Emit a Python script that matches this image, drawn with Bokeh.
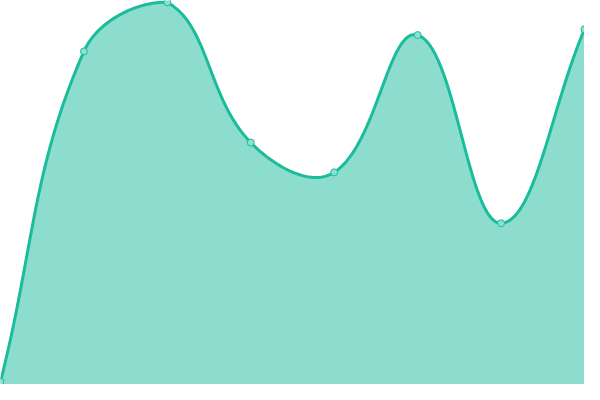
import numpy as np
from bokeh.plotting import figure
from bokeh.models import Range1d
from bokeh.embed import file_html
from bokeh.resources import INLINE

# values
xs = [0, 1, 2, 3, 4, 5, 6, 7]
ys = [3, 347, 398, 252, 221, 364, 168, 370]

TENSION = 0.4
X_UNIT = 600 / 7  # so the spline is computed in a roughly pixel-like space
Y_MAX = 400


def spline_path(x, y, tension=TENSION, steps=40):
    # cardinal-style bezier control points (like chart.js), capped to the plot area
    px = np.array(x, dtype=float) * X_UNIT
    py = np.array(y, dtype=float)
    n = len(px)
    cps = []
    for i in range(n):
        prev_i = max(i - 1, 0)
        next_i = min(i + 1, n - 1)
        d01 = np.hypot(px[i] - px[prev_i], py[i] - py[prev_i])
        d12 = np.hypot(px[next_i] - px[i], py[next_i] - py[i])
        tot = d01 + d12
        s01 = d01 / tot if tot else 0
        s12 = d12 / tot if tot else 0
        fa, fb = tension * s01, tension * s12
        dx, dy = px[next_i] - px[prev_i], py[next_i] - py[prev_i]
        a = (np.clip(px[i] - fa * dx, 0, px[-1]), np.clip(py[i] - fa * dy, 0, Y_MAX))
        b = (np.clip(px[i] + fb * dx, 0, px[-1]), np.clip(py[i] + fb * dy, 0, Y_MAX))
        cps.append((a, b))
    out_x, out_y = [], []
    t = np.linspace(0, 1, steps)
    for i in range(n - 1):
        p0 = np.array([px[i], py[i]])
        p1 = np.array(cps[i][1])
        p2 = np.array(cps[i + 1][0])
        p3 = np.array([px[i + 1], py[i + 1]])
        for tt in t if i == 0 else t[1:]:
            pt = ((1 - tt) ** 3) * p0 + 3 * ((1 - tt) ** 2) * tt * p1 + 3 * (1 - tt) * tt ** 2 * p2 + tt ** 3 * p3
            out_x.append(pt[0] / X_UNIT)
            out_y.append(pt[1])
    return out_x, out_y


cx, cy = spline_path(xs, ys)

p = figure(width=584, height=384, output_backend="svg", toolbar_location=None,
           x_range=Range1d(0, 7), y_range=Range1d(0, Y_MAX),
           min_border=0, outline_line_color=None)
p.axis.visible = False
p.grid.visible = False

p.varea(x=cx, y1=0, y2=cy, fill_color="#1abc9c", fill_alpha=0.5)
p.line(cx, cy, line_color="#1abc9c", line_width=3)
p.scatter(xs, ys, size=7, fill_color="#8de0cf", line_color="#1abc9c", line_width=1)

open("out.html", "w").write(file_html(p, INLINE))
